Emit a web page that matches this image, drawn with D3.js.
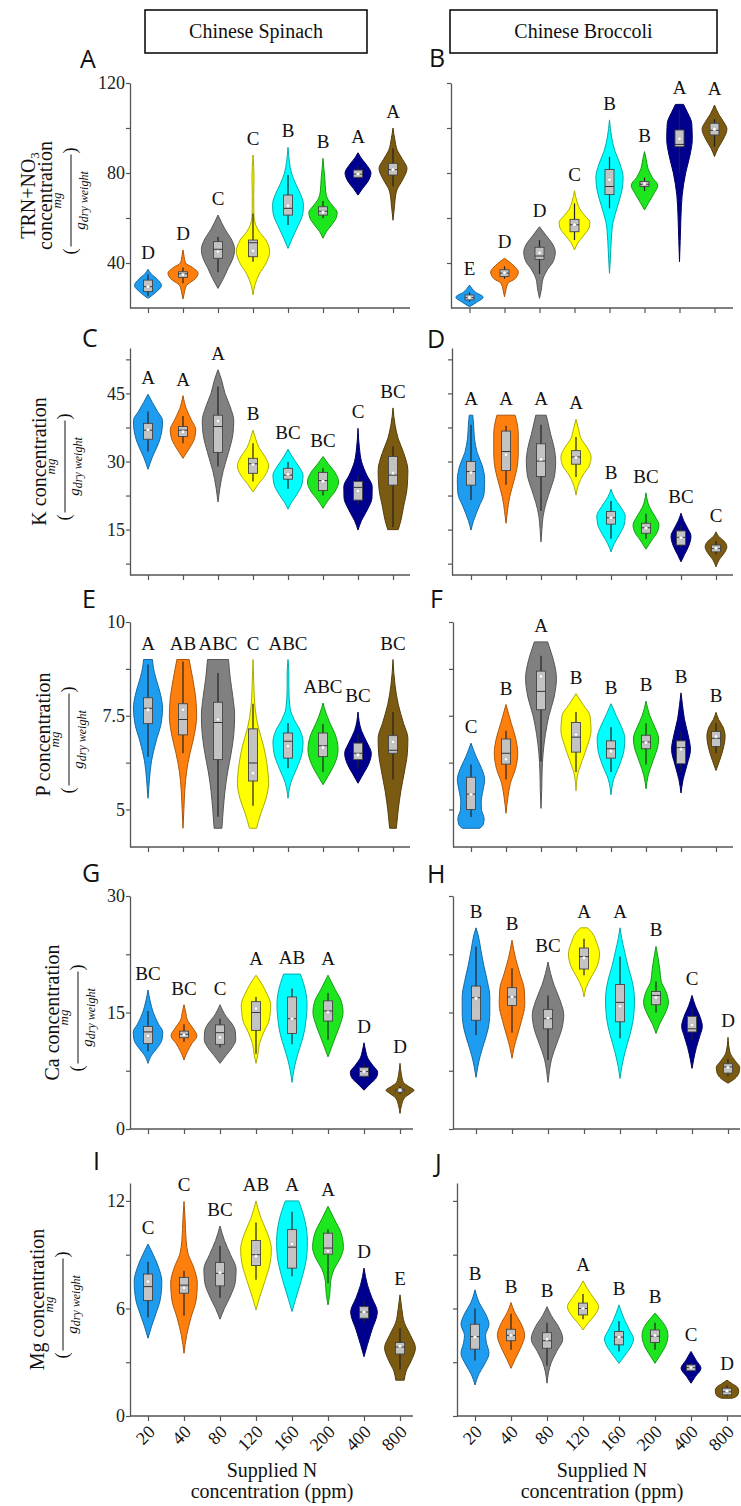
<!DOCTYPE html>
<html>
<head>
<meta charset="utf-8">
<script src="https://cdn.jsdelivr.net/npm/d3@7"></script>
<style>
  body { margin: 0; background: #fff; }
</style>
</head>
<body>
<svg id="fig" width="741" height="1506"></svg>
<script>
// Supplied N treatments and their colours
var doses = ["20", "40", "80", "120", "160", "200", "400", "800"]
var fills = ["#1e9cf0", "#ff7f0e", "#808080", "#ffff00", "#00ffff", "#1ee61e", "#00008f", "#7b5a12"]

// Violin outlines: [value, relative half-width]
var shapeA = [
  [[24.3,0],[27,0.45],[30,0.77],[33,0.5],[35,0.2],[37.2,0]],
  [[24,0],[27,0.08],[30,0.2],[33,0.7],[35.5,0.86],[38,0.55],[40,0.15],[43,0.06],[45.8,0]],
  [[28.7,0],[33,0.3],[38,0.6],[42,0.85],[46,0.95],[50,0.8],[55,0.4],[58,0.2],[61.3,0]],
  [[25.8,0],[30,0.1],[35,0.35],[40,0.75],[45,0.95],[50,0.75],[54,0.35],[57,0.15],[62,0.05],[70,0.04],[78,0.06],[83,0.04],[88,0]],
  [[46.5,0],[52,0.3],[57,0.6],[62,0.85],[66,0.88],[70,0.75],[75,0.45],[80,0.2],[85,0.08],[91.4,0]],
  [[51,0],[54,0.2],[57,0.5],[60,0.75],[62.5,0.81],[65,0.6],[68,0.3],[72,0.15],[78,0.1],[82,0.05],[86.5,0]],
  [[70.2,0],[73,0.25],[76,0.55],[80,0.74],[84,0.45],[87,0.15],[89,0]],
  [[59,0],[65,0.08],[72,0.2],[77,0.55],[82,0.8],[86,0.55],[90,0.25],[95,0.1],[100,0]]
]
var shapeB = [
  [[20.6,0],[22.5,0.4],[24.8,0.78],[27,0.35],[30.2,0]],
  [[25,0],[28,0.08],[31,0.2],[33,0.6],[36,0.79],[39,0.5],[42.1,0]],
  [[24.3,0],[28,0.1],[33,0.2],[37,0.45],[41,0.8],[45,0.9],[49,0.7],[52,0.4],[56.1,0]],
  [[45.8,0],[49,0.2],[52,0.5],[56,0.85],[58,0.88],[61,0.6],[64,0.3],[67,0.15],[72.1,0]],
  [[35.4,0],[42,0.05],[50,0.1],[58,0.2],[65,0.45],[72,0.7],[78,0.78],[84,0.6],[90,0.3],[96,0.12],[103.6,0]],
  [[63.6,0],[67,0.25],[71,0.55],[74.5,0.76],[78,0.45],[82,0.2],[86,0.1],[89.5,0]],
  [[40.6,0],[50,0.04],[60,0.08],[70,0.15],[80,0.35],[88,0.6],[95,0.73],[102,0.7],[107,0.45],[110.5,0.23]],
  [[87.3,0],[91,0.2],[95,0.5],[99.5,0.71],[103,0.5],[106,0.25],[110.2,0]]
]
var shapeC = [
  [[28.3,0],[31,0.25],[34,0.6],[37,0.8],[39,0.83],[41,0.55],[43,0.25],[44.8,0]],
  [[30.7,0],[32.5,0.3],[35,0.65],[37,0.73],[39,0.5],[41.5,0.2],[44.5,0]],
  [[21.1,0],[24,0.1],[28,0.3],[32,0.6],[36,0.85],[39,0.9],[42,0.7],[45,0.4],[48,0.2],[50.2,0]],
  [[23.3,0],[25,0.3],[27,0.7],[29,0.89],[31,0.7],[33,0.35],[35,0.15],[36.9,0]],
  [[19.5,0],[21,0.2],[23,0.55],[25,0.8],[27,0.86],[29,0.6],[31,0.25],[32.7,0]],
  [[19.7,0],[21.5,0.3],[23.5,0.7],[25.5,0.89],[27.5,0.7],[29.5,0.3],[31.1,0]],
  [[14.9,0],[17,0.2],[19.5,0.55],[22,0.8],[24.5,0.81],[27,0.5],[30,0.2],[33,0.08],[37.3,0]],
  [[15,0.3],[17,0.45],[20,0.6],[24,0.8],[28,0.85],[32,0.6],[35,0.3],[38,0.12],[41.8,0]]
]
var shapeD = [
  [[14.9,0],[17,0.15],[20,0.45],[23,0.75],[26,0.78],[29,0.65],[32,0.35],[35,0.2],[38,0.15],[40.2,0.1]],
  [[16.4,0],[19,0.08],[22,0.2],[25,0.4],[28,0.6],[32,0.7],[36,0.7],[39,0.6],[40.2,0.52]],
  [[12.3,0],[15,0.05],[18,0.12],[21,0.3],[24,0.55],[27,0.78],[30,0.84],[33,0.75],[36,0.55],[38.5,0.4],[40.2,0.3]],
  [[22.6,0],[25,0.15],[27,0.4],[29,0.75],[31,0.86],[33,0.65],[35,0.3],[37,0.15],[39.3,0]],
  [[10.1,0],[12,0.2],[14,0.5],[16,0.75],[18,0.81],[20,0.55],[22,0.2],[23.9,0]],
  [[10.7,0],[12.5,0.3],[14.5,0.65],[16,0.74],[18,0.5],[20,0.2],[23.1,0]],
  [[7.9,0],[9.5,0.2],[11.5,0.45],[13.5,0.57],[15.5,0.35],[17,0.15],[18.6,0]],
  [[6.8,0],[8.5,0.2],[10,0.5],[11.2,0.62],[12.5,0.45],[13.5,0.15],[14.5,0]]
]
var shapeE = [
  [[5.3,0],[5.8,0.08],[6.3,0.2],[6.8,0.45],[7.3,0.75],[7.7,0.83],[8.1,0.7],[8.5,0.45],[8.8,0.3],[9,0.25]],
  [[4.5,0],[5,0.05],[5.5,0.1],[6,0.2],[6.5,0.4],[7,0.65],[7.5,0.78],[8,0.72],[8.5,0.55],[9,0.35]],
  [[4.5,0.22],[5,0.3],[5.5,0.4],[6,0.55],[6.5,0.75],[7,0.9],[7.5,0.95],[8,0.85],[8.5,0.7],[9,0.6]],
  [[4.5,0.2],[4.9,0.45],[5.3,0.75],[5.7,0.89],[6.2,0.8],[6.7,0.6],[7.2,0.3],[7.7,0.12],[8.3,0.05],[9,0]],
  [[5.3,0],[5.7,0.15],[6.1,0.5],[6.5,0.8],[6.8,0.86],[7.1,0.7],[7.4,0.35],[7.7,0.12],[8.2,0.05],[8.6,0.05],[9,0]],
  [[5.66,0],[5.9,0.3],[6.2,0.65],[6.6,0.86],[7,0.7],[7.3,0.4],[7.6,0.15],[7.84,0]],
  [[5.7,0],[5.95,0.3],[6.2,0.6],[6.5,0.76],[6.8,0.5],[7.1,0.2],[7.6,0]],
  [[4.5,0.19],[5,0.3],[5.5,0.45],[6,0.65],[6.5,0.82],[6.9,0.85],[7.3,0.6],[7.8,0.3],[8.3,0.12],[9,0]]
]
var shapeF = [
  [[4.5,0.5],[4.6,0.7],[4.75,0.75],[5,0.6],[5.2,0.58],[5.5,0.68],[5.8,0.78],[6.1,0.6],[6.4,0.3],[6.77,0]],
  [[4.9,0],[5.3,0.1],[5.7,0.25],[6.1,0.55],[6.5,0.67],[6.9,0.55],[7.3,0.3],[7.6,0.12],[7.8,0]],
  [[5.03,0],[5.5,0.04],[6,0.06],[6.5,0.12],[7,0.25],[7.5,0.45],[8,0.75],[8.5,0.88],[9,0.7],[9.3,0.5],[9.47,0.38]],
  [[5.5,0],[5.9,0.08],[6.3,0.35],[6.7,0.65],[7.1,0.86],[7.5,0.8],[7.8,0.4],[8.09,0]],
  [[5.39,0],[5.8,0.15],[6.2,0.5],[6.6,0.75],[6.9,0.79],[7.2,0.6],[7.5,0.3],[7.82,0]],
  [[5.55,0],[5.9,0.12],[6.3,0.4],[6.7,0.68],[6.9,0.72],[7.2,0.5],[7.5,0.22],[7.89,0]],
  [[5.44,0],[5.8,0.12],[6.2,0.35],[6.6,0.54],[7,0.4],[7.4,0.2],[7.8,0.08],[8.11,0]],
  [[6.04,0],[6.3,0.2],[6.6,0.4],[6.95,0.52],[7.2,0.4],[7.4,0.15],[7.59,0]]
]
var shapeG = [
  [[8.45,0],[9.5,0.2],[10.5,0.55],[11.5,0.8],[12.5,0.84],[13.5,0.6],[15,0.3],[16.5,0.12],[17.9,0]],
  [[8.9,0],[10,0.2],[11,0.45],[12,0.74],[13,0.5],[14,0.2],[15,0.1],[16,0]],
  [[8.45,0],[9.5,0.35],[10.5,0.7],[11.5,0.9],[12.5,0.88],[13.5,0.7],[14.5,0.35],[16,0]],
  [[8.45,0],[9.5,0.1],[11,0.2],[12.5,0.45],[14,0.75],[16,0.84],[17.5,0.6],[18.8,0.3],[19.8,0]],
  [[6,0],[7.5,0.1],[9,0.25],[10.5,0.45],[12,0.65],[14,0.8],[16,0.86],[18,0.75],[19.5,0.55],[19.95,0.48]],
  [[9.3,0],[10.5,0.2],[12,0.45],[13.5,0.7],[15,0.86],[16.5,0.75],[18,0.4],[19.8,0]],
  [[5,0],[5.8,0.35],[6.6,0.7],[7.3,0.78],[8.2,0.5],[9.2,0.2],[10,0.1],[11.1,0]],
  [[2,0],[3,0.08],[4,0.25],[4.6,0.6],[5,0.8],[5.4,0.55],[6,0.2],[7,0.08],[8.45,0]]
]
var shapeH = [
  [[6.65,0],[8,0.1],[9.5,0.25],[11,0.45],[13,0.7],[15,0.79],[17,0.79],[19,0.65],[21,0.45],[23,0.28],[25,0.12],[25.9,0]],
  [[9.1,0],[10.5,0.12],[12,0.3],[14,0.55],[16,0.73],[18,0.7],[20,0.45],[22,0.2],[24.3,0]],
  [[6,0],[7.5,0.08],[9,0.2],[11,0.5],[13,0.8],[14.7,0.9],[16.5,0.7],[18.5,0.35],[20,0.15],[21.5,0]],
  [[17,0],[18.2,0.12],[19.5,0.4],[21,0.75],[22.5,0.89],[24,0.72],[25.3,0.45],[25.9,0.2]],
  [[6.5,0],[8,0.1],[10,0.3],[12,0.55],[14,0.75],[16.5,0.83],[19,0.7],[21,0.45],[23,0.25],[24.5,0.1],[25.9,0]],
  [[12.3,0],[13.5,0.2],[14.8,0.5],[16.3,0.71],[17.8,0.55],[19,0.3],[20.5,0.22],[22,0.12],[23.5,0]],
  [[7.8,0],[9,0.1],[10.5,0.25],[12,0.45],[13.2,0.59],[14.5,0.45],[15.8,0.2],[17.2,0]],
  [[5.9,0],[6.5,0.4],[7.2,0.62],[7.9,0.67],[8.8,0.4],[9.8,0.12],[11.8,0]]
]
var shapeI = [
  [[4.34,0],[5,0.2],[5.7,0.45],[6.5,0.7],[7.5,0.79],[8.3,0.6],[9,0.3],[9.59,0]],
  [[3.5,0],[4.5,0.15],[5.5,0.4],[6.5,0.7],[7.4,0.76],[8.3,0.55],[9,0.25],[9.8,0.12],[11,0.06],[11.97,0]],
  [[5.4,0],[6,0.25],[6.7,0.6],[7.5,0.88],[8.2,0.92],[9,0.6],[9.8,0.25],[10.6,0]],
  [[5.92,0],[6.6,0.2],[7.5,0.5],[8.5,0.8],[9.3,0.88],[10.2,0.65],[11,0.3],[12,0]],
  [[5.83,0],[6.5,0.2],[7.3,0.45],[8.2,0.7],[9,0.85],[9.8,0.88],[10.6,0.8],[11.4,0.6],[12,0.38]],
  [[6.2,0],[6.8,0.1],[7.5,0.15],[8.2,0.35],[8.8,0.7],[9.4,0.88],[10.2,0.75],[11,0.35],[11.7,0]],
  [[3.31,0],[4,0.2],[4.8,0.45],[5.8,0.76],[6.6,0.45],[7.3,0.2],[8.25,0]],
  [[2,0.24],[2.5,0.35],[3.1,0.65],[3.8,0.88],[4.5,0.6],[5.2,0.25],[6,0.1],[6.76,0]]
]
var shapeJ = [
  [[1.73,0],[2.3,0.2],[2.9,0.55],[3.5,0.8],[4.1,0.65],[4.5,0.6],[5.1,0.8],[5.7,0.6],[6.3,0.25],[7.04,0]],
  [[2.66,0],[3.2,0.25],[3.8,0.55],[4.5,0.78],[5.2,0.55],[5.8,0.2],[6.33,0]],
  [[1.83,0],[2.4,0.08],[3,0.25],[3.6,0.55],[4.3,0.9],[5,0.65],[5.6,0.25],[6.1,0]],
  [[4.8,0],[5.2,0.3],[5.6,0.65],[6.1,0.89],[6.6,0.6],[7.1,0.25],[7.54,0]],
  [[2.94,0],[3.4,0.35],[3.9,0.7],[4.3,0.83],[4.8,0.6],[5.4,0.3],[6.2,0]],
  [[2.94,0],[3.4,0.3],[3.9,0.6],[4.5,0.74],[5,0.6],[5.4,0.3],[5.74,0]],
  [[1.83,0],[2.2,0.25],[2.66,0.57],[3.1,0.3],[3.6,0]],
  [[0.99,0.3],[1.15,0.6],[1.4,0.67],[1.6,0.6],[1.8,0.3],[2.0,0]]
]

// Box stats: [whisker low, q1, median, q3, whisker high, mean]
var boxA = [[25.5,27.3,29.5,32.4,35,29.5],[31,33.6,35.2,36.1,38,34.8],[35.9,42.1,46.1,49.5,51.7,45],[40.6,42.8,49,50.2,62,45.4],
            [56.9,61.3,64.3,70.2,79.1,65.5],[59.9,61.3,63,65,67.6,62.5],[77,78.1,79.5,81.3,83,79.6],[74,79.1,81.5,84.3,91,81.5]]
var boxB = [[22.8,23.6,24.6,25.8,27,24.7],[33,34,35.5,37,38.5,35.6],[35.1,41.6,43.1,47,50.2,44.5],[50.2,53.9,57,59.4,66.5,57],
            [64.3,70.4,74,81.6,87.2,77],[72,74,75,76.2,78,75.2],[79.9,91.7,92.7,99.1,108,95.2],[91.7,96.9,99,102.1,104,99.5]]
var boxC = [[32.2,34.9,36.9,38.4,41,37],[34,35.5,36.9,37.7,40,36.5],[28.9,32,37.7,40.2,46.5,38.9],[25.6,27.4,29.5,30.7,34,29.3],
            [24,26.1,27,28.5,29.9,27.2],[22.5,23.6,25.8,27.6,28.5,25.6],[20.5,21.5,24.3,25.6,27,23.5],[15.5,24.8,27,31.1,33.3,27.5]]
var boxD = [[21.5,24.8,27.8,30,38.1,27.5],[24.9,28,32.2,36.7,37.9,31.5],[19.1,26.7,30.1,33.9,38.1,30.5],[26.6,29.4,31,32.4,35.4,30.8],
            [13,16.2,17.6,19,21.3,17.6],[13,14.2,15.4,16.4,18.5,15.3],[11,11.6,13.3,14.7,16,13.2],[9.5,10.1,10.8,11.6,12.5,10.9]]
var boxE = [[6.41,7.29,7.7,7.98,8.87,7.65],[6.5,6.99,7.4,7.82,8.95,7.66],[4.81,6.33,7.32,7.86,8.64,7.4],[5.1,5.76,6.24,7.15,7.82,5.97],
            [6.1,6.37,6.82,7.04,7.3,6.69],[6.0,6.41,6.7,7.04,7.28,6.65],[6.1,6.33,6.5,6.77,7.0,6.45],[5.8,6.5,6.58,6.97,7.6,6.8]]
var boxF = [[4.8,5.0,5.41,5.86,6.2,5.4],[5.8,6.21,6.5,6.88,7.1,6.34],[6.28,7.66,8.15,8.69,9.1,8.55],[6.0,6.53,6.93,7.32,7.6,7.0],
            [6.0,6.37,6.62,6.83,7.2,6.55],[6.2,6.62,6.8,6.98,7.3,6.78],[6.0,6.22,6.65,6.83,7.1,6.6],[6.5,6.68,6.9,7.08,7.3,6.95]]
var boxG = [[10,11,12.5,13.2,15.2,12],[11.2,11.75,12.2,12.6,13.5,12.1],[10.5,10.9,12.4,13.4,14.2,11.8],[9.7,12.7,15,16.4,17,15.5],
            [10.9,12.3,14.2,17,18.1,14.2],[11.5,13.9,15.2,16.5,17.5,15],[6.5,6.8,7.4,7.9,8.5,7.4],[4.5,4.8,5,5.1,5.5,5]]
var boxH = [[12.1,14,16.9,18.4,23.5,16.8],[12.4,15.9,17,18.2,20.7,17],[8.9,12.9,14.2,15.4,17.2,14.3],[19.8,20.6,22.2,23.3,24.5,22],
            [11.7,13.8,16.3,18.6,22.2,15.8],[15,16,17.2,17.7,19,16.9],[11.5,12.5,12.9,14.5,15.5,13.4],[6.8,7.2,8.0,8.4,9.0,7.9]]
var boxI = [[5.5,6.44,7.22,7.92,8.6,7.5],[5.6,6.85,7.3,7.73,8.1,7.14],[6.6,7.26,7.96,8.57,9.5,8],[7.6,8.4,9.0,9.79,10.8,8.9],
            [7.8,8.25,9.42,10.4,11.4,9.6],[7.4,9.03,9.37,10.2,10.4,9.2],[5.2,5.46,5.8,6.1,6.4,5.8],[2.6,3.46,3.85,4.1,4.9,3.9]]
var boxJ = [[3.1,3.73,4.43,5.12,6,4.4],[3.7,4.2,4.5,4.84,5.7,4.5],[2.8,3.78,4.2,4.65,5.2,4.3],[5.4,5.64,6.0,6.3,6.8,6.0],
            [3.6,3.97,4.4,4.71,5.3,4.4],[3.7,4.1,4.45,4.8,5.2,4.5],[2.5,2.53,2.7,2.85,3.0,2.7],[1.1,1.18,1.35,1.55,1.7,1.4]]

// Significance letters
var lettersA = ["D","D","C","C","B","B","A","A"]
var lettersB = ["E","D","D","C","B","B","A","A"]
var lettersC = ["A","A","A","B","BC","BC","C","BC"]
var lettersD = ["A","A","A","A","B","BC","BC","C"]
var lettersE = ["A","AB","ABC","C","ABC","ABC","BC","BC"]
var lettersF = ["C","B","A","B","B","B","B","B"]
var lettersG = ["BC","BC","C","A","AB","A","D","D"]
var lettersH = ["B","B","BC","A","A","B","C","D"]
var lettersI = ["C","C","BC","AB","A","A","D","E"]
var lettersJ = ["B","B","B","A","B","B","C","D"]

// Y domains and ticks for each row
var yDomains = [[20, 120], [5, 55], [4, 10], [0, 30], [0, 13]]
var majorTicks = [[40, 80, 120], [15, 30, 45], [5, 7.5, 10], [0, 15, 30], [0, 6, 12]]
var minorTicks = [[60, 100], [7.5, 22.5, 37.5, 52.5], [6.25, 8.75], [7.5, 22.5], [3, 9]]
var nutrients = ["TRN+NO3", "K", "P", "Ca", "Mg"]

var serif = '"Liberation Serif", "Tinos", "Times New Roman", "DejaVu Serif", serif'
var svg = d3.select('#fig').style('font-family', serif)

// row geometry (pixel layout)
var rowY = [[308, 83], [575, 348], [847, 622], [1129, 896], [1416, 1183]]
var cols = [
  [{ax: 130, first: 148, step: 35, end: 410}, {ax: 451, first: 469.5, step: 35, end: 733}],
  [{ax: 130, first: 148, step: 35, end: 410}, {ax: 452, first: 471, step: 35, end: 733}],
  [{ax: 130, first: 148, step: 35, end: 410}, {ax: 453, first: 471, step: 35, end: 733}],
  [{ax: 130, first: 148, step: 36, end: 413}, {ax: 453, first: 476, step: 36, end: 740}],
  [{ax: 130, first: 148, step: 36, end: 413}, {ax: 457, first: 475, step: 36, end: 741}]
]
var panels = [
  {id: 'A', row: 0, side: 0, shape: shapeA, box: boxA, letters: lettersA, tag: [80, 68]},
  {id: 'B', row: 0, side: 1, shape: shapeB, box: boxB, letters: lettersB, tag: [429, 67]},
  {id: 'C', row: 1, side: 0, shape: shapeC, box: boxC, letters: lettersC, tag: [82, 347]},
  {id: 'D', row: 1, side: 1, shape: shapeD, box: boxD, letters: lettersD, tag: [427, 348]},
  {id: 'E', row: 2, side: 0, shape: shapeE, box: boxE, letters: lettersE, tag: [82, 608]},
  {id: 'F', row: 2, side: 1, shape: shapeF, box: boxF, letters: lettersF, tag: [430, 608]},
  {id: 'G', row: 3, side: 0, shape: shapeG, box: boxG, letters: lettersG, tag: [82, 882]},
  {id: 'H', row: 3, side: 1, shape: shapeH, box: boxH, letters: lettersH, tag: [427, 883]},
  {id: 'I', row: 4, side: 0, shape: shapeI, box: boxI, letters: lettersI, tag: [93, 1170]},
  {id: 'J', row: 4, side: 1, shape: shapeJ, box: boxJ, letters: lettersJ, tag: [435, 1172]}
]

var halfW = d3.scaleLinear().domain([0, 1]).range([0, 17.5])
var axisColor = '#555'

// plain serif text helper
function label(parent, x, y, size, str) {
  return parent.append('text').attr('x', x).attr('y', y)
    .style('font-family', serif).style('font-size', size + 'px').attr('fill', '#111').text(str)
}

// header boxes
var heads = [["Chinese Spinach", 145, 222], ["Chinese Broccoli", 450, 267]]
heads.forEach(function(h) {
  svg.append('rect').attr('x', h[1]).attr('y', 10).attr('width', h[2]).attr('height', 43)
    .attr('fill', 'none').attr('stroke', '#000').attr('stroke-width', 1.5)
  label(svg, h[1] + h[2] / 2, 38, 20, h[0]).attr('text-anchor', 'middle')
})

function drawPanel(p) {
  var c = cols[p.row][p.side]
  var y = d3.scaleLinear().domain(yDomains[p.row]).range(rowY[p.row])
  var x = d3.scalePoint().domain(doses).range([c.first, c.first + 7 * c.step])
  var g = svg.append('g')
  var y0 = rowY[p.row][0]

  // x axis
  g.append('line').attr('x1', c.ax).attr('x2', c.end).attr('y1', y0).attr('y2', y0)
    .attr('stroke', axisColor).attr('stroke-width', 1.3)
  var xa = g.append('g').attr('transform', 'translate(0,' + y0 + ')')
    .call(d3.axisBottom(x).tickSize(5).tickFormat(''))
  xa.select('.domain').remove()
  xa.selectAll('line').attr('stroke', axisColor).attr('stroke-width', 1.2)

  // y axis
  var major = majorTicks[p.row]
  var ya = g.append('g').attr('transform', 'translate(' + c.ax + ',0)')
    .call(d3.axisLeft(y).tickValues(major.concat(minorTicks[p.row])).tickSize(4).tickSizeOuter(0)
      .tickFormat(function(d) { return (p.side === 0 && major.indexOf(d) >= 0) ? String(d) : '' }))
  ya.attr('font-family', null)
  ya.select('.domain').attr('stroke', axisColor).attr('stroke-width', 1.3)
  ya.selectAll('line').attr('stroke', axisColor).attr('stroke-width', 1.2)
  ya.selectAll('text').style('font-size', '18px').style('font-family', serif)
    .attr('fill', '#222').attr('x', -5)

  // violins
  var area = d3.area()
    .y(function(d) { return y(d[0]) })
    .curve(d3.curveMonotoneY)
  doses.forEach(function(dose, i) {
    var cx = x(dose)
    area.x0(function(d) { return cx - halfW(d[1]) }).x1(function(d) { return cx + halfW(d[1]) })
    var col = fills[i]
    g.append('path').attr('d', area(p.shape[i])).attr('fill', col)
      .attr('stroke', d3.color(col).darker(1.1)).attr('stroke-width', 1)
    var b = p.box[i]
    g.append('line').attr('x1', cx).attr('x2', cx).attr('y1', y(b[0])).attr('y2', y(b[4]))
      .attr('stroke', '#222').attr('stroke-width', 1.2)
    g.append('rect').attr('x', cx - 4.5).attr('width', 9).attr('y', y(b[3]))
      .attr('height', Math.max(1, y(b[1]) - y(b[3])))
      .attr('fill', '#c3c3c3').attr('stroke', '#444').attr('stroke-width', 0.9)
    g.append('line').attr('x1', cx - 4.5).attr('x2', cx + 4.5).attr('y1', y(b[2])).attr('y2', y(b[2]))
      .attr('stroke', '#333').attr('stroke-width', 1)
    g.append('circle').attr('cx', cx).attr('cy', y(b[5])).attr('r', 1.8)
      .attr('fill', '#fff').attr('stroke', '#aaa').attr('stroke-width', 0.6)
    var top = d3.max(p.shape[i], function(d) { return d[0] })
    label(g, cx, y(top) - 10, 19, p.letters[i]).attr('text-anchor', 'middle')
  })

  // panel tag
  svg.append('text').attr('x', p.tag[0]).attr('y', p.tag[1]).attr('fill', '#111')
    .style('font-family', '"Open Sans", "Liberation Sans", sans-serif').style('font-size', '25px').text(p.id)

  // bottom row labels
  if (p.row === 4) {
    doses.forEach(function(dose) {
      var tx = x(dose) + 8, ty = y0 + 17
      label(svg, 0, 0, 18, dose).attr('transform', 'translate(' + tx + ',' + ty + ') rotate(-45)')
        .attr('text-anchor', 'end')
    })
    var mid = p.side === 0 ? 272 : 602
    label(svg, mid, 1477, 20, 'Supplied N').attr('text-anchor', 'middle')
    label(svg, mid, 1498, 20, 'concentration (ppm)').attr('text-anchor', 'middle')
  }
}

// rotated y title with the mg / g dry weight fraction
var labelBase = [52, 46, 50, 59, 44]
function yLabel(row) {
  var cy = (rowY[row][0] + rowY[row][1]) / 2
  var b = labelBase[row]
  var g = svg.append('g').attr('transform', 'translate(0,' + cy + ') rotate(-90)')
  var lines = row === 0 ? [nutrients[0], 'concentration'] : [nutrients[row] + ' concentration']
  lines.forEach(function(t, i) {
    var tx = label(g, 0, b - (lines.length - 1 - i) * 17, 20, null).attr('text-anchor', 'middle')
    if (t === 'TRN+NO3') {
      tx.append('tspan').text('TRN+NO')
      tx.append('tspan').attr('dy', 4).style('font-size', '13px').text('3')
    } else {
      tx.text(t)
    }
  })
  var fx = -5
  label(g, fx, b + 9, 13, 'mg').attr('text-anchor', 'middle').style('font-style', 'italic')
  g.append('line').attr('x1', fx - 46).attr('x2', fx + 46).attr('y1', b + 19).attr('y2', b + 19)
    .attr('stroke', '#111').attr('stroke-width', 1)
  var den = label(g, fx, b + 33, 15, null).attr('text-anchor', 'middle').style('font-style', 'italic')
  den.append('tspan').text('g')
  den.append('tspan').attr('dy', 3).style('font-size', '12px').text('dry weight')
  label(g, fx - 51, b + 24, 18, '(').attr('text-anchor', 'middle')
  label(g, fx + 50, b + 24, 18, ')').attr('text-anchor', 'middle')
}

panels.forEach(drawPanel)
for (var r = 0; r < 5; r++) yLabel(r)
</script>
</body>
</html>
